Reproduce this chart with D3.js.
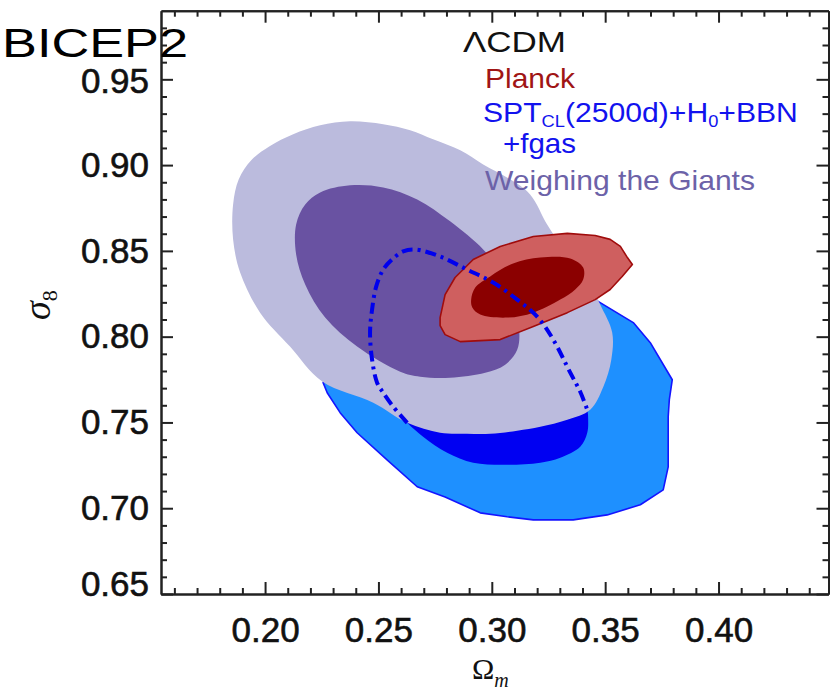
<!DOCTYPE html>
<html><head><meta charset="utf-8">
<script src="https://cdn.jsdelivr.net/npm/d3@7"></script>
<style>body{margin:0;background:#fff} svg{display:block}</style>
</head><body><svg id="c" width="830" height="691"></svg>
<script>
// ---------- data ----------
const xTicks = [0.20, 0.25, 0.30, 0.35, 0.40];
const xTickLabels = ["0.20", "0.25", "0.30", "0.35", "0.40"];
const yTicks = [0.65, 0.70, 0.75, 0.80, 0.85, 0.90, 0.95];
const yTickLabels = ["0.65", "0.70", "0.75", "0.80", "0.85", "0.90", "0.95"];
const legendTitle = "ΛCDM";
const legendPlanck = "Planck";
const legendSptParts = ["SPT", "CL", "(2500d)+H", "0", "+BBN"];
const legendSpt2 = "+fgas";
const legendWtG = "Weighing the Giants";
const chartTag = "BICEP2";

// contours as [Ωm, σ8]
const sptOuter95 = [[0.2287,0.7808],[0.2596,0.8100],[0.2949,0.8275],[0.3302,0.8304],[0.3456,0.8216],[0.3624,0.8082],[0.3699,0.7965],[0.3796,0.7749],[0.3783,0.7633],[0.3778,0.7533],[0.3778,0.7241],[0.3756,0.7107],[0.3655,0.7020],[0.3509,0.6961],[0.3359,0.6932],[0.3183,0.6932],[0.3068,0.6950],[0.2949,0.6973],[0.2794,0.7066],[0.2671,0.7125],[0.2538,0.7282],[0.2406,0.7440],[0.2331,0.7557],[0.2274,0.7673],[0.2256,0.7732]];
const sptInner68Edge = [[0.2627,0.7498],[0.2565,0.7592],[0.2521,0.7673],[0.2494,0.7732],[0.2472,0.7866],[0.2463,0.8024],[0.2472,0.8158],[0.2490,0.8292],[0.2521,0.8391],[0.2560,0.8450],[0.2609,0.8497],[0.2662,0.8508],[0.2772,0.8467],[0.2891,0.8391],[0.3006,0.8316],[0.3112,0.8216],[0.3200,0.8117],[0.3271,0.7983],[0.3346,0.7790],[0.3390,0.7679],[0.3421,0.7574]];
const sptInner68Bottom = [[0.3425,0.7516],[0.3421,0.7440],[0.3390,0.7358],[0.3302,0.7294],[0.3214,0.7265],[0.3068,0.7253],[0.2918,0.7265],[0.2803,0.7323],[0.2697,0.7417]];
const wtgOuter95 = [[0.1859,0.8771],[0.1884,0.8917],[0.1940,0.9030],[0.2020,0.9110],[0.2124,0.9180],[0.2243,0.9232],[0.2375,0.9255],[0.2521,0.9238],[0.2640,0.9203],[0.2741,0.9150],[0.2861,0.9086],[0.2962,0.9004],[0.3081,0.8917],[0.3169,0.8829],[0.3244,0.8654],[0.3302,0.8537],[0.3368,0.8421],[0.3434,0.8304],[0.3478,0.8187],[0.3531,0.8024],[0.3527,0.7866],[0.3492,0.7708],[0.3434,0.7574],[0.3333,0.7516],[0.3214,0.7475],[0.3112,0.7452],[0.2993,0.7434],[0.2891,0.7434],[0.2772,0.7440],[0.2627,0.7498],[0.2477,0.7615],[0.2252,0.7738],[0.2110,0.7942],[0.1978,0.8140],[0.1890,0.8374],[0.1859,0.8567]];
const wtgInner68 = [[0.2137,0.8654],[0.2177,0.8771],[0.2243,0.8841],[0.2375,0.8882],[0.2521,0.8870],[0.2671,0.8800],[0.2816,0.8672],[0.2962,0.8508],[0.3037,0.8380],[0.3094,0.8216],[0.3121,0.8041],[0.3112,0.7924],[0.3059,0.7837],[0.2971,0.7790],[0.2816,0.7761],[0.2684,0.7767],[0.2596,0.7796],[0.2406,0.7942],[0.2265,0.8111],[0.2177,0.8304],[0.2137,0.8479]];
const planckOuter95 = [[0.2772,0.8111],[0.2794,0.8245],[0.2838,0.8345],[0.2918,0.8450],[0.3037,0.8526],[0.3183,0.8584],[0.3333,0.8602],[0.3456,0.8590],[0.3522,0.8567],[0.3567,0.8526],[0.3598,0.8461],[0.3620,0.8421],[0.3575,0.8351],[0.3522,0.8275],[0.3456,0.8216],[0.3333,0.8140],[0.3183,0.8059],[0.3037,0.7983],[0.2861,0.7971],[0.2794,0.8012],[0.2772,0.8065]];
const planckInner68 = [[0.2909,0.8216],[0.2927,0.8286],[0.2993,0.8351],[0.3094,0.8426],[0.3214,0.8461],[0.3346,0.8456],[0.3403,0.8403],[0.3403,0.8333],[0.3368,0.8275],[0.3302,0.8216],[0.3183,0.8140],[0.3068,0.8111],[0.2949,0.8129],[0.2914,0.8170]];

// ---------- drawing ----------
const svg = d3.select("#c");
const frame = {left: 161, right: 828.5, top: 10.7, bottom: 594};
const x = d3.scaleLinear().domain([0.1541, 0.4485]).range([frame.left, frame.right]);
const y = d3.scaleLinear().domain([0.65, 0.99]).range([frame.bottom, frame.top]);
const SANS = "'Liberation Sans', Arial, Helvetica, sans-serif";
const SERIF = "'Liberation Serif', 'DejaVu Serif', serif";

svg.append("defs").append("clipPath").attr("id", "pc")
  .append("rect").attr("x", frame.left).attr("y", frame.top)
  .attr("width", frame.right - frame.left).attr("height", frame.bottom - frame.top);

const plot = svg.append("g").attr("clip-path", "url(#pc)");
const px = d => x(d[0]), py = d => y(d[1]);
const smoothClosed = d3.line().x(px).y(py).curve(d3.curveCatmullRomClosed.alpha(0.5));
const linClosed = d3.line().x(px).y(py).curve(d3.curveLinearClosed);
const smoothOpen = d3.line().x(px).y(py).curve(d3.curveCatmullRom.alpha(0.5));

plot.append("path").attr("d", linClosed(sptOuter95))
  .attr("fill", "#1e90ff").attr("stroke", "#1414ff").attr("stroke-width", 1.6).attr("stroke-linejoin", "round");
plot.append("path").attr("d", smoothClosed(sptInner68Edge.concat(sptInner68Bottom)))
  .attr("fill", "#0000f2");
plot.append("path").attr("d", smoothClosed(wtgOuter95)).attr("fill", "#bbbbdd");
plot.append("path").attr("d", smoothClosed(wtgInner68)).attr("fill", "#6952a2");
plot.append("path").attr("d", linClosed(planckOuter95))
  .attr("fill", "#cf5f5f").attr("stroke", "#a00c0c").attr("stroke-width", 1.6).attr("stroke-linejoin", "round");
plot.append("path").attr("d", smoothClosed(planckInner68)).attr("fill", "#8b0000");
plot.append("path").attr("d", smoothOpen(sptInner68Edge))
  .attr("fill", "none").attr("stroke", "#0000ee").attr("stroke-width", 4)
  .attr("stroke-dasharray", "11,5,3,5");

// ---------- axes ----------
const xMinor = d3.range(16, 45).filter(v => v % 5 !== 0).map(v => v / 100);
const yMinor = d3.range(66, 99).filter(v => v % 5 !== 0).map(v => v / 100);

function styleAxis(g) {
  g.selectAll("path.domain").attr("stroke", "#222").attr("stroke-width", 2);
  g.selectAll(".tick line").attr("stroke", "#222").attr("stroke-width", 2);
  g.selectAll(".tick text").attr("font-family", SANS).attr("font-size", 35).attr("fill", "#111")
    .attr("stroke", "#111").attr("stroke-width", 0.6);
}
function addAxis(axis, tr) {
  const g = svg.append("g").attr("transform", tr).call(axis);
  styleAxis(g);
  return g;
}
// bottom
addAxis(d3.axisBottom(x).tickValues(xMinor).tickSize(-6).tickSizeOuter(0).tickFormat(""), `translate(0,${frame.bottom})`);
addAxis(d3.axisBottom(x).tickValues(xTicks).tickSize(-12).tickSizeOuter(0).tickPadding(23)
  .tickFormat((d, i) => xTickLabels[i]), `translate(0,${frame.bottom})`);
// top
addAxis(d3.axisTop(x).tickValues(xMinor).tickSize(-6).tickSizeOuter(0).tickFormat(""), `translate(0,${frame.top})`);
addAxis(d3.axisTop(x).tickValues(xTicks).tickSize(-12).tickSizeOuter(0).tickFormat(""), `translate(0,${frame.top})`);
// left
addAxis(d3.axisLeft(y).tickValues(yMinor).tickSize(-6).tickSizeOuter(0).tickFormat(""), `translate(${frame.left},0)`);
const gl = addAxis(d3.axisLeft(y).tickValues(yTicks).tickSize(-12).tickSizeOuter(0).tickPadding(12)
  .tickFormat((d, i) => yTickLabels[i]), `translate(${frame.left},0)`);
gl.selectAll(".tick text").filter(d => Math.abs(d - 0.65) < 1e-9).attr("y", -10);
gl.selectAll(".tick text").filter(d => Math.abs(d - 0.95) < 1e-9).attr("y", 2);
// right
addAxis(d3.axisRight(y).tickValues(yMinor).tickSize(-6).tickSizeOuter(0).tickFormat(""), `translate(${frame.right},0)`);
addAxis(d3.axisRight(y).tickValues(yTicks).tickSize(-12).tickSizeOuter(0).tickFormat(""), `translate(${frame.right},0)`);

// axis titles
const xt = svg.append("text").attr("x", 472).attr("y", 679).attr("font-family", SERIF).attr("fill", "#111");
xt.append("tspan").attr("font-size", 30).text("Ω");
xt.append("tspan").attr("font-size", 20).attr("font-style", "italic").attr("dy", 8).text("m");

const yt = svg.append("text").attr("transform", "translate(50,320) rotate(-90)").attr("font-family", SERIF).attr("fill", "#111");
yt.append("tspan").attr("font-size", 38).attr("font-style", "italic").text("σ");
yt.append("tspan").attr("font-size", 22).attr("dy", 7).text("8");

// legend
const lg = svg.append("g").attr("font-family", SANS);
lg.append("text").attr("x", 463).attr("y", 52).attr("font-size", 30).attr("fill", "#111")
  .attr("textLength", 103).attr("lengthAdjust", "spacingAndGlyphs").text(legendTitle);
lg.append("text").attr("x", 485).attr("y", 88).attr("font-size", 28).attr("fill", "#a01515")
  .attr("textLength", 90).attr("lengthAdjust", "spacingAndGlyphs").text(legendPlanck);
const st = lg.append("text").attr("transform", "translate(483,122) scale(1.076,1)").attr("font-size", 28).attr("fill", "#1212ee");
st.append("tspan").text(legendSptParts[0]);
st.append("tspan").attr("font-size", 17).attr("dy", 5).text(legendSptParts[1]);
st.append("tspan").attr("dy", -5).text(legendSptParts[2]);
st.append("tspan").attr("font-size", 17).attr("dy", 5).text(legendSptParts[3]);
st.append("tspan").attr("dy", -5).text(legendSptParts[4]);
lg.append("text").attr("x", 503).attr("y", 153).attr("font-size", 28).attr("fill", "#1212ee")
  .attr("textLength", 73).attr("lengthAdjust", "spacingAndGlyphs").text(legendSpt2);
lg.append("text").attr("x", 485).attr("y", 190).attr("font-size", 28).attr("fill", "#6c62a8")
  .attr("textLength", 270).attr("lengthAdjust", "spacingAndGlyphs").text(legendWtG);

// tag
svg.append("text").attr("x", 2).attr("y", 57).attr("font-family", SANS).attr("font-size", 41)
  .attr("fill", "#000").attr("textLength", 186).attr("lengthAdjust", "spacingAndGlyphs").text(chartTag);
</script>
</body></html>
